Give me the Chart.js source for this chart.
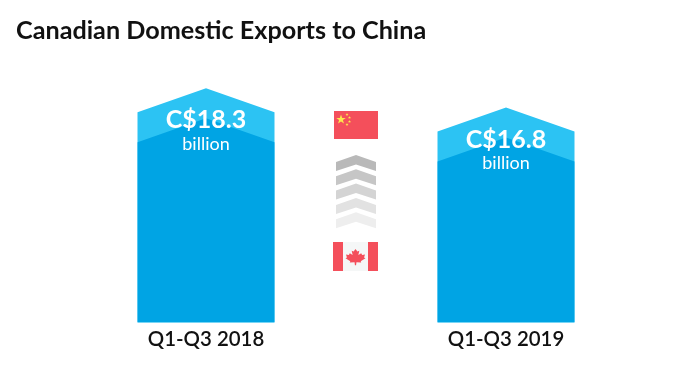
<!DOCTYPE html>
<html><head><meta charset="utf-8">
<style>html,body{margin:0;padding:0;background:#fff}#w{width:700px;height:381px;position:relative}</style>
<script src="https://cdn.jsdelivr.net/npm/chart.js@4"></script>
</head><body><div id="w"><canvas id="c" width="700" height="381"></canvas></div>
<script>
const titleText = "Canadian Domestic Exports to China";
const categories = ["Q1-Q3 2018", "", "Q1-Q3 2019"];
const exportsBillions = [18.3, null, 16.8];
const unitLabel = "billion";
const FONT = "Lato, sans-serif";
const LIGHT = "#2cc3f3", DARK = "#00a4e4";
const SHOULDER = 24, INNER = 30;

function pent(ctx, b, off) {
  const l = b.x - b.width / 2, r = b.x + b.width / 2;
  ctx.moveTo(l, b.base);
  ctx.lineTo(l, b.y + SHOULDER + off);
  ctx.lineTo(b.x, b.y + off);
  ctx.lineTo(r, b.y + SHOULDER + off);
  ctx.lineTo(r, b.base);
  ctx.closePath();
}
function star(ctx, x, y, R) {
  ctx.beginPath();
  for (let i = 0; i < 10; i++) {
    const a = -Math.PI / 2 + i * Math.PI / 5, q = i % 2 ? R * 0.4 : R;
    ctx.lineTo(x + q * Math.cos(a), y + q * Math.sin(a));
  }
  ctx.closePath(); ctx.fill();
}
const arrowBars = {
  id: "arrowBars",
  beforeDatasetDraw(chart, args) {
    const ctx = chart.ctx;
    ctx.save();
    const bars = args.meta.data.filter((b, i) => exportsBillions[i] !== null);
    ctx.fillStyle = LIGHT;
    ctx.beginPath();
    bars.forEach(b => pent(ctx, b, 0));
    ctx.fill();
    ctx.beginPath();
    bars.forEach(b => pent(ctx, b, INNER));
    ctx.clip();
  },
  afterDatasetDraw(chart) { chart.ctx.restore(); },
  afterDatasetsDraw(chart) {
    const ctx = chart.ctx, meta = chart.getDatasetMeta(0);
    ctx.save();
    ctx.textAlign = "center"; ctx.textBaseline = "middle"; ctx.fillStyle = "#fff";
    meta.data.forEach((b, i) => {
      if (exportsBillions[i] === null) return;
      ctx.font = "bold 25px " + FONT;
      ctx.fillText("C$" + exportsBillions[i].toFixed(1), b.x, b.y + 32);
      ctx.font = "18px " + FONT;
      ctx.fillText(unitLabel, b.x, b.y + 56);
    });
    // flags and chevrons in the middle slot
    const cx = chart.scales.x.getPixelForValue(1);
    ctx.fillStyle = "#f44f5b";
    ctx.fillRect(cx - 22, 111, 44, 28);
    ctx.fillStyle = "#fde74c";
    star(ctx, cx - 15, 119.5, 5);
    [[-9, 114.5], [-6.5, 117.5], [-6.5, 121.5], [-9, 124.5]].forEach(p => star(ctx, cx + p[0], p[1], 1.6));
    const greys = ["#b9b9b9", "#c6c6c6", "#d4d4d4", "#e2e2e2", "#eeeeee"];
    greys.forEach((g, i) => {
      const t = 155 + i * 14.3;
      ctx.fillStyle = g;
      ctx.beginPath();
      ctx.moveTo(cx, t); ctx.lineTo(cx + 20, t + 7); ctx.lineTo(cx + 20, t + 16);
      ctx.lineTo(cx, t + 9.5); ctx.lineTo(cx - 20, t + 16); ctx.lineTo(cx - 20, t + 7);
      ctx.closePath(); ctx.fill();
    });
    ctx.fillStyle = "#f5f7f7"; ctx.fillRect(cx - 13, 242, 25, 29);
    ctx.fillStyle = "#f44f5b";
    ctx.fillRect(cx - 23, 242, 10, 29); ctx.fillRect(cx + 12, 242, 10, 29);
    const m = cx - 0.5, t = 249;
    ctx.beginPath();
    [[0,0],[2,3],[4,2],[3,7],[6,5],[7,7],[10,6.5],[9,10],[10.5,11],[5.5,14.5],[6,16],[1,15.5],[0.6,19],
     [-0.6,19],[-1,15.5],[-6,16],[-5.5,14.5],[-10.5,11],[-9,10],[-10,6.5],[-7,7],[-6,5],[-3,7],[-4,2],[-2,3]]
      .forEach(p => ctx.lineTo(m + p[0] * 0.95, t + p[1] * 0.85));
    ctx.closePath(); ctx.fill();
    ctx.restore();
  }
};
new Chart(document.getElementById("c"), {
  type: "bar",
  data: { labels: categories, datasets: [{ data: exportsBillions, backgroundColor: DARK, barThickness: 137, borderWidth: 0 }] },
  plugins: [arrowBars],
  options: {
    responsive: false, animation: false, devicePixelRatio: 1,
    layout: { padding: { left: 16, right: 119, top: 0, bottom: 24 } },
    plugins: {
      legend: { display: false }, tooltip: { enabled: false },
      title: { display: true, text: titleText, align: "start", color: "#111",
        font: { family: FONT, size: 25.2, weight: "bold" }, padding: { top: 16, bottom: 42 } }
    },
    scales: {
      y: { display: true, min: 0, max: 18.3, ticks: { display: false }, grid: { display: false }, border: { display: false },
        afterFit(s) { s.width = 115; } },
      x: { grid: { display: false, drawTicks: false, tickLength: 0 }, border: { display: false },
        ticks: { color: "#111", maxRotation: 0, autoSkip: false, padding: 5, font: { family: FONT, size: 20.4, weight: "600" } } }
    }
  }
});
</script></body></html>
